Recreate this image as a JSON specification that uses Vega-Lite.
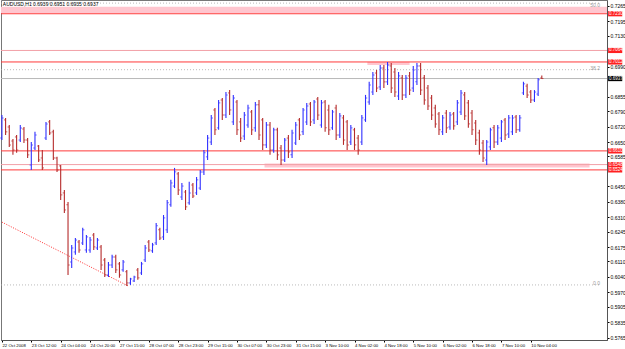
{
"$schema":"https://vega.github.io/schema/vega-lite/v6.json",
"width":606,"height":340,
"autosize":{"type":"none"},
"padding":{"left":1,"top":0,"right":18,"bottom":9},
"background":"white",
"view":{"stroke":"#777","strokeWidth":1},
"resolve":{"axis":{"x":"independent","y":"independent"}},
"config":{"font":"Liberation Sans","axis":{"labelOverlap":false,"labelSeparation":0,"labelBound":false,"labelFlush":false,"grid":false,"title":null,"labelFontSize":5,"labelColor":"#000","tickColor":"#000","domainColor":"#555","tickSize":2,"labelPadding":1},"axisX":{"labelFontSize":4.3}},
"datasets":{
"bands":[{"t":-0.5,"t2":329.5,"p":0.7262,"p2":0.7233},{"t":143,"t2":320,"p":0.6553,"p2":0.6535},{"t":199,"t2":222,"p":0.7012,"p2":0.6998}],
"redlines":[{"t":-0.5,"t2":329.5,"p":0.7230},{"t":-0.5,"t2":329.5,"p":0.7012},{"t":-0.5,"t2":329.5,"p":0.6610},{"t":-0.5,"t2":329.5,"p":0.6524}],
"pinklines":[{"t":-0.5,"t2":329.5,"p":0.7064},{"t":-0.5,"t2":329.5,"p":0.6548}],
"bid":[{"t":-0.5,"t2":329.5,"p":0.6937}],
"fib":[{"t":-0.5,"t2":325.7,"p":0.7278},{"t":-0.5,"t2":325.7,"p":0.6977},{"t":-0.5,"t2":325.7,"p":0.6004}],
"trend":[{"t":0,"p":0.6288},{"t":68.6,"p":0.6000}],
"tags":[{"p":0.7230,"s":"0.7230","k":"r"},{"p":0.7064,"s":"0.7064","k":"r"},{"p":0.7012,"s":"0.7012","k":"r"},{"p":0.6937,"s":"0.6937","k":"b"},{"p":0.6610,"s":"0.6610","k":"r"},{"p":0.6548,"s":"0.6548","k":"r"},{"p":0.6524,"s":"0.6524","k":"r"}],
"fiblabels":[{"t":325.7,"p":0.7269,"s":"50.0"},{"t":325.7,"p":0.6986,"s":"38.2"},{"t":325.7,"p":0.6013,"s":"0.0"}],
"title":[{"t":0.5,"p":0.7275,"s":"AUDUSD,H1  0.6939 0.6951 0.6935 0.6937"}],
"bars":[
{"t":0,"o":0.6668,"h":0.6772,"l":0.6659,"c":0.6759},
{"t":2,"o":0.6750,"h":0.6759,"l":0.6682,"c":0.6696},
{"t":4,"o":0.6718,"h":0.6727,"l":0.6628,"c":0.6637},
{"t":6,"o":0.6655,"h":0.6664,"l":0.6592,"c":0.6614},
{"t":8,"o":0.6673,"h":0.6682,"l":0.6601,"c":0.6614},
{"t":10,"o":0.6659,"h":0.6727,"l":0.6650,"c":0.6713},
{"t":12,"o":0.6709,"h":0.6718,"l":0.6646,"c":0.6659},
{"t":14,"o":0.6659,"h":0.6668,"l":0.6578,"c":0.6592},
{"t":16,"o":0.6546,"h":0.6650,"l":0.6524,"c":0.6637},
{"t":18,"o":0.6623,"h":0.6696,"l":0.6614,"c":0.6682},
{"t":20,"o":0.6632,"h":0.6637,"l":0.6560,"c":0.6569},
{"t":22,"o":0.6578,"h":0.6614,"l":0.6524,"c":0.6533},
{"t":24,"o":0.6668,"h":0.6741,"l":0.6659,"c":0.6732},
{"t":26,"o":0.6741,"h":0.6750,"l":0.6682,"c":0.6691},
{"t":28,"o":0.6696,"h":0.6705,"l":0.6569,"c":0.6578},
{"t":30,"o":0.6578,"h":0.6583,"l":0.6515,"c":0.6524},
{"t":32,"o":0.6542,"h":0.6546,"l":0.6388,"c":0.6411},
{"t":34,"o":0.6420,"h":0.6433,"l":0.6329,"c":0.6343},
{"t":36,"o":0.6366,"h":0.6379,"l":0.6049,"c":0.6094},
{"t":38,"o":0.6108,"h":0.6185,"l":0.6081,"c":0.6171},
{"t":40,"o":0.6153,"h":0.6216,"l":0.6140,"c":0.6207},
{"t":42,"o":0.6198,"h":0.6207,"l":0.6149,"c":0.6162},
{"t":44,"o":0.6194,"h":0.6262,"l":0.6185,"c":0.6253},
{"t":46,"o":0.6162,"h":0.6230,"l":0.6149,"c":0.6221},
{"t":48,"o":0.6162,"h":0.6221,"l":0.6149,"c":0.6207},
{"t":50,"o":0.6230,"h":0.6239,"l":0.6162,"c":0.6176},
{"t":52,"o":0.6171,"h":0.6216,"l":0.6162,"c":0.6207},
{"t":54,"o":0.6176,"h":0.6185,"l":0.6072,"c":0.6094},
{"t":56,"o":0.6117,"h":0.6126,"l":0.6040,"c":0.6049},
{"t":58,"o":0.6049,"h":0.6108,"l":0.6040,"c":0.6094},
{"t":60,"o":0.6094,"h":0.6140,"l":0.6081,"c":0.6130},
{"t":62,"o":0.6130,"h":0.6140,"l":0.6058,"c":0.6072},
{"t":64,"o":0.6099,"h":0.6108,"l":0.6036,"c":0.6049},
{"t":66,"o":0.6072,"h":0.6117,"l":0.6063,"c":0.6108},
{"t":68,"o":0.6063,"h":0.6072,"l":0.5999,"c":0.6013},
{"t":70,"o":0.6013,"h":0.6036,"l":0.6004,"c":0.6031},
{"t":72,"o":0.6022,"h":0.6045,"l":0.6017,"c":0.6040},
{"t":74,"o":0.6072,"h":0.6081,"l":0.6027,"c":0.6036},
{"t":76,"o":0.6058,"h":0.6108,"l":0.6049,"c":0.6099},
{"t":78,"o":0.6117,"h":0.6185,"l":0.6108,"c":0.6171},
{"t":80,"o":0.6198,"h":0.6207,"l":0.6153,"c":0.6162},
{"t":82,"o":0.6158,"h":0.6194,"l":0.6149,"c":0.6185},
{"t":84,"o":0.6194,"h":0.6284,"l":0.6185,"c":0.6271},
{"t":86,"o":0.6253,"h":0.6262,"l":0.6207,"c":0.6216},
{"t":88,"o":0.6221,"h":0.6320,"l":0.6207,"c":0.6307},
{"t":90,"o":0.6253,"h":0.6388,"l":0.6239,"c":0.6375},
{"t":92,"o":0.6366,"h":0.6479,"l":0.6357,"c":0.6465},
{"t":94,"o":0.6451,"h":0.6533,"l":0.6442,"c":0.6515},
{"t":96,"o":0.6506,"h":0.6515,"l":0.6411,"c":0.6433},
{"t":98,"o":0.6402,"h":0.6465,"l":0.6388,"c":0.6451},
{"t":100,"o":0.6424,"h":0.6433,"l":0.6343,"c":0.6357},
{"t":102,"o":0.6375,"h":0.6470,"l":0.6366,"c":0.6420},
{"t":104,"o":0.6456,"h":0.6465,"l":0.6397,"c":0.6406},
{"t":106,"o":0.6420,"h":0.6492,"l":0.6411,"c":0.6479},
{"t":108,"o":0.6442,"h":0.6524,"l":0.6433,"c":0.6515},
{"t":110,"o":0.6515,"h":0.6614,"l":0.6501,"c":0.6601},
{"t":112,"o":0.6583,"h":0.6682,"l":0.6569,"c":0.6668},
{"t":114,"o":0.6650,"h":0.6772,"l":0.6637,"c":0.6759},
{"t":116,"o":0.6795,"h":0.6804,"l":0.6682,"c":0.6705},
{"t":118,"o":0.6714,"h":0.6840,"l":0.6705,"c":0.6827},
{"t":120,"o":0.6840,"h":0.6849,"l":0.6750,"c":0.6772},
{"t":122,"o":0.6772,"h":0.6876,"l":0.6759,"c":0.6863},
{"t":124,"o":0.6872,"h":0.6885,"l":0.6772,"c":0.6795},
{"t":126,"o":0.6741,"h":0.6863,"l":0.6727,"c":0.6849},
{"t":128,"o":0.6831,"h":0.6840,"l":0.6682,"c":0.6705},
{"t":130,"o":0.6741,"h":0.6759,"l":0.6650,"c":0.6668},
{"t":132,"o":0.6677,"h":0.6786,"l":0.6659,"c":0.6772},
{"t":134,"o":0.6727,"h":0.6818,"l":0.6714,"c":0.6804},
{"t":136,"o":0.6786,"h":0.6795,"l":0.6682,"c":0.6705},
{"t":138,"o":0.6714,"h":0.6831,"l":0.6696,"c":0.6818},
{"t":140,"o":0.6818,"h":0.6840,"l":0.6659,"c":0.6682},
{"t":142,"o":0.6750,"h":0.6759,"l":0.6614,"c":0.6637},
{"t":144,"o":0.6637,"h":0.6741,"l":0.6623,"c":0.6727},
{"t":146,"o":0.6727,"h":0.6741,"l":0.6592,"c":0.6614},
{"t":148,"o":0.6614,"h":0.6714,"l":0.6601,"c":0.6705},
{"t":150,"o":0.6705,"h":0.6714,"l":0.6569,"c":0.6592},
{"t":152,"o":0.6623,"h":0.6637,"l":0.6546,"c":0.6569},
{"t":154,"o":0.6569,"h":0.6668,"l":0.6560,"c":0.6659},
{"t":156,"o":0.6668,"h":0.6682,"l":0.6578,"c":0.6605},
{"t":158,"o":0.6592,"h":0.6705,"l":0.6578,"c":0.6691},
{"t":160,"o":0.6646,"h":0.6741,"l":0.6637,"c":0.6727},
{"t":162,"o":0.6750,"h":0.6759,"l":0.6659,"c":0.6682},
{"t":164,"o":0.6696,"h":0.6804,"l":0.6682,"c":0.6795},
{"t":166,"o":0.6741,"h":0.6827,"l":0.6727,"c":0.6813},
{"t":168,"o":0.6822,"h":0.6831,"l":0.6723,"c":0.6741},
{"t":170,"o":0.6750,"h":0.6840,"l":0.6732,"c":0.6831},
{"t":172,"o":0.6845,"h":0.6854,"l":0.6750,"c":0.6772},
{"t":174,"o":0.6727,"h":0.6840,"l":0.6714,"c":0.6827},
{"t":176,"o":0.6831,"h":0.6840,"l":0.6696,"c":0.6714},
{"t":178,"o":0.6795,"h":0.6818,"l":0.6682,"c":0.6705},
{"t":180,"o":0.6714,"h":0.6795,"l":0.6705,"c":0.6786},
{"t":182,"o":0.6804,"h":0.6818,"l":0.6659,"c":0.6682},
{"t":184,"o":0.6682,"h":0.6781,"l":0.6668,"c":0.6768},
{"t":186,"o":0.6759,"h":0.6772,"l":0.6637,"c":0.6659},
{"t":188,"o":0.6741,"h":0.6750,"l":0.6614,"c":0.6637},
{"t":190,"o":0.6650,"h":0.6727,"l":0.6637,"c":0.6714},
{"t":192,"o":0.6705,"h":0.6714,"l":0.6614,"c":0.6637},
{"t":194,"o":0.6668,"h":0.6682,"l":0.6592,"c":0.6614},
{"t":196,"o":0.6650,"h":0.6772,"l":0.6637,"c":0.6759},
{"t":198,"o":0.6750,"h":0.6863,"l":0.6741,"c":0.6849},
{"t":200,"o":0.6831,"h":0.6922,"l":0.6818,"c":0.6908},
{"t":202,"o":0.6876,"h":0.6967,"l":0.6863,"c":0.6953},
{"t":204,"o":0.6962,"h":0.6976,"l":0.6876,"c":0.6894},
{"t":206,"o":0.6899,"h":0.6998,"l":0.6885,"c":0.6985},
{"t":208,"o":0.6985,"h":0.6998,"l":0.6894,"c":0.6922},
{"t":210,"o":0.6922,"h":0.7012,"l":0.6908,"c":0.6998},
{"t":212,"o":0.6994,"h":0.7007,"l":0.6872,"c":0.6894},
{"t":214,"o":0.6967,"h":0.6985,"l":0.6854,"c":0.6876},
{"t":216,"o":0.6858,"h":0.6967,"l":0.6840,"c":0.6949},
{"t":218,"o":0.6940,"h":0.6953,"l":0.6840,"c":0.6863},
{"t":220,"o":0.6863,"h":0.6953,"l":0.6849,"c":0.6940},
{"t":222,"o":0.6949,"h":0.6967,"l":0.6863,"c":0.6885},
{"t":224,"o":0.6894,"h":0.6994,"l":0.6876,"c":0.6976},
{"t":226,"o":0.6922,"h":0.7007,"l":0.6908,"c":0.6994},
{"t":228,"o":0.6994,"h":0.7007,"l":0.6863,"c":0.6885},
{"t":230,"o":0.6940,"h":0.6953,"l":0.6818,"c":0.6840},
{"t":232,"o":0.6894,"h":0.6908,"l":0.6795,"c":0.6813},
{"t":234,"o":0.6849,"h":0.6863,"l":0.6750,"c":0.6772},
{"t":236,"o":0.6804,"h":0.6818,"l":0.6714,"c":0.6732},
{"t":238,"o":0.6777,"h":0.6786,"l":0.6682,"c":0.6705},
{"t":240,"o":0.6696,"h":0.6772,"l":0.6682,"c":0.6759},
{"t":242,"o":0.6781,"h":0.6795,"l":0.6691,"c":0.6714},
{"t":244,"o":0.6718,"h":0.6786,"l":0.6705,"c":0.6772},
{"t":246,"o":0.6777,"h":0.6786,"l":0.6705,"c":0.6723},
{"t":248,"o":0.6741,"h":0.6840,"l":0.6727,"c":0.6827},
{"t":250,"o":0.6786,"h":0.6885,"l":0.6772,"c":0.6872},
{"t":252,"o":0.6863,"h":0.6876,"l":0.6750,"c":0.6768},
{"t":254,"o":0.6827,"h":0.6840,"l":0.6714,"c":0.6732},
{"t":256,"o":0.6781,"h":0.6795,"l":0.6682,"c":0.6705},
{"t":258,"o":0.6736,"h":0.6750,"l":0.6637,"c":0.6659},
{"t":260,"o":0.6691,"h":0.6705,"l":0.6592,"c":0.6614},
{"t":262,"o":0.6646,"h":0.6659,"l":0.6560,"c":0.6578},
{"t":264,"o":0.6569,"h":0.6659,"l":0.6546,"c":0.6650},
{"t":266,"o":0.6628,"h":0.6714,"l":0.6614,"c":0.6705},
{"t":268,"o":0.6714,"h":0.6727,"l":0.6623,"c":0.6650},
{"t":270,"o":0.6650,"h":0.6727,"l":0.6637,"c":0.6714},
{"t":272,"o":0.6668,"h":0.6750,"l":0.6650,"c":0.6741},
{"t":274,"o":0.6750,"h":0.6759,"l":0.6659,"c":0.6682},
{"t":276,"o":0.6686,"h":0.6772,"l":0.6668,"c":0.6759},
{"t":278,"o":0.6696,"h":0.6772,"l":0.6682,"c":0.6759},
{"t":280,"o":0.6763,"h":0.6772,"l":0.6691,"c":0.6705},
{"t":282,"o":0.6705,"h":0.6772,"l":0.6696,"c":0.6759},
{"t":284,"o":0.6872,"h":0.6922,"l":0.6863,"c":0.6913},
{"t":286,"o":0.6903,"h":0.6913,"l":0.6849,"c":0.6863},
{"t":288,"o":0.6876,"h":0.6885,"l":0.6827,"c":0.6840},
{"t":290,"o":0.6840,"h":0.6885,"l":0.6831,"c":0.6876},
{"t":292,"o":0.6867,"h":0.6940,"l":0.6858,"c":0.6931},
{"t":294,"o":0.6939,"h":0.6951,"l":0.6935,"c":0.6937}
]},
"layer":[
{"data":{"name":"bands"},"mark":{"type":"rect","color":"#ffc6cf"},
 "encoding":{
  "x":{"field":"t","type":"quantitative","title":null,"scale":{"domain":[-0.5,329.5],"nice":false,"zero":false},
   "axis":{"values":[0,16,32,48,64,80,96,112,128,144,160,176,192,208,224,240,256,272,288],
     "labelExpr":"['22 Oct 2008','23 Oct 12:00','24 Oct 04:00','24 Oct 20:00','27 Oct 15:00','28 Oct 07:00','28 Oct 23:00','29 Oct 15:00','30 Oct 07:00','30 Oct 23:00','31 Oct 15:00','3 Nov 10:00','4 Nov 02:00','4 Nov 18:00','5 Nov 10:00','6 Nov 02:00','6 Nov 18:00','7 Nov 10:00','10 Nov 04:00'][round(datum.value/16)]",
     "labelAlign":"left","labelBaseline":"top","labelOverlap":false,"labelFontSize":4.3}},
  "x2":{"field":"t2"},
  "y":{"field":"p","type":"quantitative","title":null,"scale":{"domain":[0.5755,0.72921],"nice":false,"zero":false},
   "axis":{"orient":"right","values":[0.7265,0.7195,0.713,0.699,0.6855,0.679,0.672,0.665,0.6585,0.645,0.638,0.631,0.6245,0.6175,0.611,0.604,0.597,0.5905,0.5835,0.5765],
     "format":".4f","labelBaseline":"middle","labelOverlap":false}},
  "y2":{"field":"p2"}}},
{"data":{"name":"fib"},"mark":{"type":"rule","color":"#aaaaaa","strokeWidth":0.8,"strokeDash":[1,2]},
 "encoding":{"x":{"field":"t","type":"quantitative","axis":null},"x2":{"field":"t2"},"y":{"field":"p","type":"quantitative","axis":null}}},
{"data":{"name":"bid"},"mark":{"type":"rule","color":"#b8b8b8","strokeWidth":1},
 "encoding":{"x":{"field":"t","type":"quantitative","axis":null},"x2":{"field":"t2"},"y":{"field":"p","type":"quantitative","axis":null}}},
{"data":{"name":"pinklines"},"mark":{"type":"rule","color":"#f2a0a8","strokeWidth":1},
 "encoding":{"x":{"field":"t","type":"quantitative","axis":null},"x2":{"field":"t2"},"y":{"field":"p","type":"quantitative","axis":null}}},
{"data":{"name":"redlines"},"mark":{"type":"rule","color":"#ff3a3a","strokeWidth":1},
 "encoding":{"x":{"field":"t","type":"quantitative","axis":null},"x2":{"field":"t2"},"y":{"field":"p","type":"quantitative","axis":null}}},
{"data":{"name":"trend"},"mark":{"type":"line","color":"#ff3030","strokeWidth":1,"strokeDash":[1,1.5]},
 "encoding":{"x":{"field":"t","type":"quantitative","axis":null},"y":{"field":"p","type":"quantitative","axis":null}}},
{"data":{"name":"bars"},"mark":{"type":"rule","strokeWidth":1.1},
 "encoding":{"x":{"field":"t","type":"quantitative","axis":null},"y":{"field":"l","type":"quantitative","axis":null},"y2":{"field":"h"},
  "color":{"condition":{"test":"datum.c >= datum.o","value":"#3030ff"},"value":"#b52a2a"}}},
{"data":{"name":"bars"},"mark":{"type":"tick","orient":"horizontal","size":1.6,"thickness":1,"xOffset":-0.9},
 "encoding":{"x":{"field":"t","type":"quantitative","axis":null},"y":{"field":"o","type":"quantitative","axis":null},
  "color":{"condition":{"test":"datum.c >= datum.o","value":"#3030ff"},"value":"#b52a2a"}}},
{"data":{"name":"bars"},"mark":{"type":"tick","orient":"horizontal","size":1.6,"thickness":1,"xOffset":0.9},
 "encoding":{"x":{"field":"t","type":"quantitative","axis":null},"y":{"field":"c","type":"quantitative","axis":null},
  "color":{"condition":{"test":"datum.c >= datum.o","value":"#3030ff"},"value":"#b52a2a"}}},
{"data":{"name":"fiblabels"},"mark":{"type":"text","fontSize":5,"color":"#999999","align":"right","baseline":"middle"},
 "encoding":{"x":{"field":"t","type":"quantitative","axis":null},"y":{"field":"p","type":"quantitative","axis":null},"text":{"field":"s"}}},
{"data":{"name":"title"},"mark":{"type":"text","fontSize":5,"color":"#000","align":"left","baseline":"middle"},
 "encoding":{"x":{"field":"t","type":"quantitative","axis":null},"y":{"field":"p","type":"quantitative","axis":null},"text":{"field":"s"}}},
{"data":{"name":"tags"},"mark":{"type":"rect","yOffset":-2.6,"y2Offset":2.6},
 "encoding":{"x":{"datum":330.1,"type":"quantitative","axis":null},"x2":{"datum":337.8},
  "y":{"field":"p","type":"quantitative","axis":null},
  "y2":{"field":"p"},
  "color":{"field":"k","type":"nominal","scale":{"domain":["r","b"],"range":["#ff2020","#000000"]},"legend":null}}},
{"data":{"name":"tags"},"mark":{"type":"text","fontSize":4.5,"color":"#ffffff","align":"left","baseline":"middle","dx":1},
 "encoding":{"x":{"datum":330.1,"type":"quantitative","axis":null},"y":{"field":"p","type":"quantitative","axis":null},"text":{"field":"s"}}}
]
}
